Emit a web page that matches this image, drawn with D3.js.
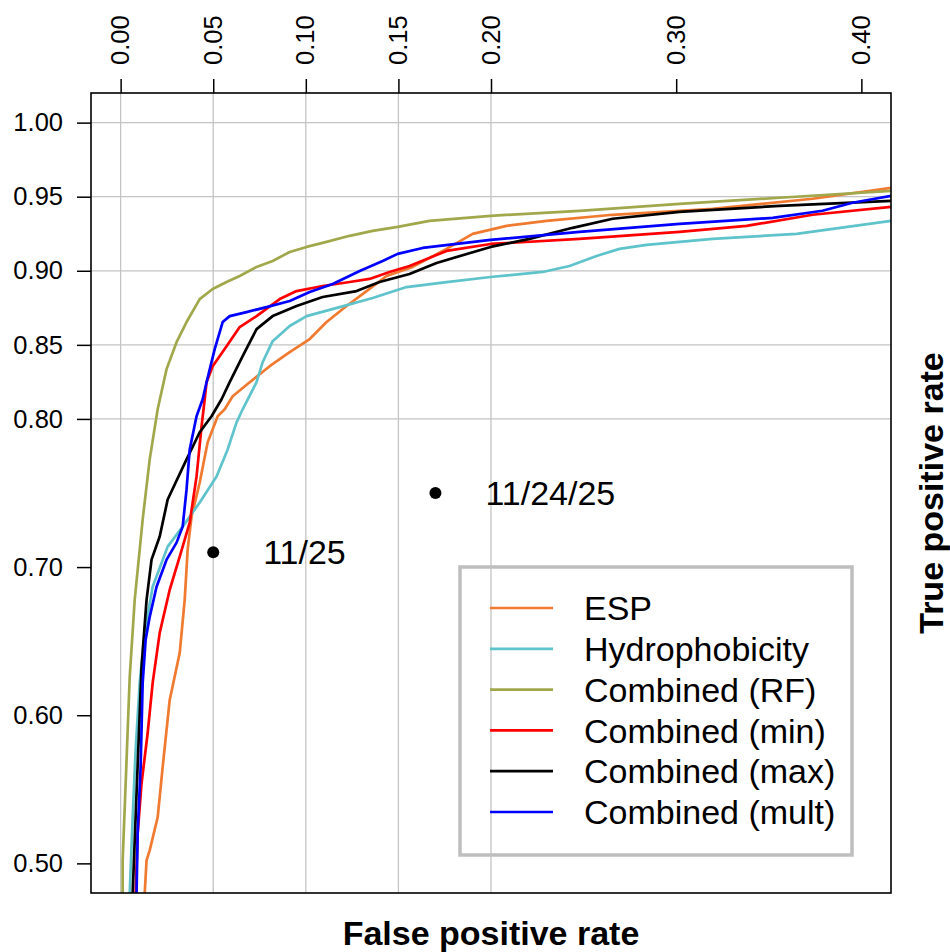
<!DOCTYPE html>
<html>
<head>
<meta charset="utf-8">
<script src="https://cdn.jsdelivr.net/npm/d3@7"></script>
<style>
  body { margin: 0; background: #fff; }
  text { font-family: "Liberation Sans", Arial, Helvetica, sans-serif; fill: #000; }
</style>
</head>
<body>
<svg id="chart" width="950" height="952"></svg>
<script>
// series names and colours, in legend order
const seriesNames = ['ESP', 'Hydrophobicity', 'Combined (RF)', 'Combined (min)', 'Combined (max)', 'Combined (mult)'];
const seriesColors = ['#f07a30', '#5fc3cb', '#a1a84c', '#ff0000', '#000000', '#0000ff'];

// ROC curves (false positive rate / true positive rate)
const espFpr = [0.0130, 0.0140, 0.0157, 0.0200, 0.0227, 0.0265, 0.0319, 0.0346, 0.0362, 0.0383, 0.0427, 0.0470, 0.0524, 0.0562, 0.0605, 0.0697, 0.0805, 0.0913, 0.1021, 0.1112, 0.1220, 0.1328, 0.1436, 0.1577, 0.1760, 0.1901, 0.2084, 0.2300, 0.2657, 0.3197, 0.3737, 0.4163];
const espTpr = [0.4797, 0.5020, 0.5088, 0.5311, 0.5650, 0.6103, 0.6421, 0.6779, 0.7118, 0.7341, 0.7571, 0.7842, 0.8018, 0.8065, 0.8153, 0.8248, 0.8356, 0.8451, 0.8539, 0.8654, 0.8762, 0.8863, 0.8965, 0.9026, 0.9148, 0.9249, 0.9303, 0.9337, 0.9378, 0.9418, 0.9486, 0.9560];

const hydFpr = [0.0049, 0.0065, 0.0081, 0.0103, 0.0130, 0.0173, 0.0254, 0.0335, 0.0427, 0.0518, 0.0578, 0.0626, 0.0659, 0.0734, 0.0767, 0.0821, 0.0913, 0.1004, 0.1183, 0.1361, 0.1544, 0.1760, 0.1998, 0.2279, 0.2424, 0.2570, 0.2694, 0.2840, 0.3197, 0.3650, 0.4163];
const hydTpr = [0.4797, 0.5311, 0.5765, 0.6218, 0.6556, 0.6867, 0.7138, 0.7273, 0.7436, 0.7612, 0.7794, 0.7977, 0.8065, 0.8248, 0.8383, 0.8525, 0.8627, 0.8694, 0.8755, 0.8816, 0.8890, 0.8924, 0.8958, 0.8992, 0.9032, 0.9100, 0.9148, 0.9175, 0.9215, 0.9249, 0.9337];

const rfFpr = [0.0011, 0.0011, 0.0032, 0.0049, 0.0076, 0.0119, 0.0157, 0.0200, 0.0248, 0.0302, 0.0356, 0.0427, 0.0497, 0.0572, 0.0643, 0.0734, 0.0821, 0.0913, 0.1004, 0.1091, 0.1237, 0.1361, 0.1496, 0.1668, 0.1998, 0.2478, 0.3018, 0.3558, 0.4163];
const rfTpr = [0.4797, 0.5020, 0.5697, 0.6258, 0.6779, 0.7321, 0.7727, 0.8065, 0.8336, 0.8518, 0.8654, 0.8809, 0.8877, 0.8924, 0.8965, 0.9026, 0.9066, 0.9127, 0.9161, 0.9188, 0.9236, 0.9269, 0.9296, 0.9337, 0.9371, 0.9405, 0.9452, 0.9493, 0.9540];

const minFpr = [0.0081, 0.0092, 0.0113, 0.0146, 0.0173, 0.0211, 0.0265, 0.0319, 0.0373, 0.0410, 0.0437, 0.0454, 0.0464, 0.0497, 0.0572, 0.0643, 0.0734, 0.0859, 0.0950, 0.1091, 0.1237, 0.1344, 0.1452, 0.1560, 0.1760, 0.1998, 0.2478, 0.3018, 0.3380, 0.3737, 0.4163];
const minTpr = [0.4797, 0.5203, 0.5541, 0.5880, 0.6218, 0.6556, 0.6847, 0.7070, 0.7300, 0.7612, 0.7950, 0.8133, 0.8248, 0.8356, 0.8491, 0.8620, 0.8694, 0.8809, 0.8863, 0.8897, 0.8924, 0.8945, 0.8992, 0.9032, 0.9134, 0.9181, 0.9215, 0.9263, 0.9303, 0.9378, 0.9432];

const maxFpr = [0.0065, 0.0086, 0.0113, 0.0140, 0.0167, 0.0211, 0.0254, 0.0356, 0.0427, 0.0491, 0.0545, 0.0589, 0.0659, 0.0734, 0.0821, 0.0950, 0.1091, 0.1274, 0.1398, 0.1560, 0.1706, 0.1998, 0.2208, 0.2441, 0.2657, 0.3018, 0.3558, 0.4163];
const maxTpr = [0.4797, 0.5474, 0.6326, 0.6779, 0.7050, 0.7206, 0.7456, 0.7727, 0.7910, 0.8018, 0.8133, 0.8248, 0.8424, 0.8606, 0.8694, 0.8762, 0.8823, 0.8863, 0.8924, 0.8978, 0.9053, 0.9161, 0.9215, 0.9290, 0.9351, 0.9398, 0.9438, 0.9472];

const multFpr = [0.0086, 0.0092, 0.0108, 0.0119, 0.0135, 0.0157, 0.0194, 0.0248, 0.0302, 0.0335, 0.0356, 0.0373, 0.0410, 0.0443, 0.0464, 0.0508, 0.0551, 0.0589, 0.0680, 0.0788, 0.0913, 0.1021, 0.1145, 0.1291, 0.1415, 0.1496, 0.1631, 0.1998, 0.2478, 0.3018, 0.3521, 0.3790, 0.3952, 0.4163];
const multTpr = [0.4797, 0.5203, 0.5650, 0.6218, 0.6509, 0.6664, 0.6867, 0.7050, 0.7165, 0.7273, 0.7524, 0.7794, 0.8018, 0.8133, 0.8248, 0.8471, 0.8654, 0.8694, 0.8721, 0.8755, 0.8796, 0.8857, 0.8911, 0.8999, 0.9066, 0.9114, 0.9154, 0.9208, 0.9263, 0.9317, 0.9357, 0.9405, 0.9459, 0.9506];

// marked operating points
const pointLabels = ['11/25', '11/24/25'];
const pointFpr = [0.05, 0.17];
const pointTpr = [0.71, 0.75];

// axis ticks
const xTicks = [0.00, 0.05, 0.10, 0.15, 0.20, 0.30, 0.40];
const yTicks = [0.50, 0.60, 0.70, 0.80, 0.85, 0.90, 0.95, 1.00];
const xGrid = [0.00, 0.05, 0.10, 0.15, 0.20];
const yGrid = [0.80, 0.85, 0.90, 0.95, 1.00];

const fprs = [espFpr, hydFpr, rfFpr, minFpr, maxFpr, multFpr];
const tprs = [espTpr, hydTpr, rfTpr, minTpr, maxTpr, multTpr];

const plot = { left: 91, top: 93, right: 891, bottom: 893 };

const svg = d3.select('#chart');

const x = d3.scaleLinear().domain([-0.016, 0.416]).range([plot.left, plot.right]);
const y = d3.scaleLinear().domain([0.48, 1.02]).range([plot.bottom, plot.top]);

svg.append('rect')
  .attr('width', 950).attr('height', 952).attr('fill', '#fff');

svg.append('clipPath').attr('id', 'plotclip')
  .append('rect')
  .attr('x', plot.left).attr('y', plot.top)
  .attr('width', plot.right - plot.left).attr('height', plot.bottom - plot.top);

// grid
const grid = svg.append('g').attr('stroke', '#c4c4c4').attr('stroke-width', 1.3);
grid.selectAll('.gx').data(xGrid).enter().append('line')
  .attr('x1', d => x(d)).attr('x2', d => x(d))
  .attr('y1', plot.top).attr('y2', plot.bottom);
grid.selectAll('.gy').data(yGrid).enter().append('line')
  .attr('x1', plot.left).attr('x2', plot.right)
  .attr('y1', d => y(d)).attr('y2', d => y(d));

// curves
const line = d3.line()
  .x(d => x(d[0]))
  .y(d => y(d[1]));

const curves = svg.append('g').attr('clip-path', 'url(#plotclip)');
seriesNames.forEach((name, i) => {
  const pts = fprs[i].map((f, j) => [f, tprs[i][j]]);
  curves.append('path')
    .datum(pts)
    .attr('d', line)
    .attr('fill', 'none')
    .attr('stroke', seriesColors[i])
    .attr('stroke-width', 2.7)
    .attr('stroke-linejoin', 'round');
});

// points
pointLabels.forEach((lab, i) => {
  svg.append('circle')
    .attr('cx', x(pointFpr[i])).attr('cy', y(pointTpr[i]))
    .attr('r', 6).attr('fill', '#000');
  svg.append('text')
    .attr('x', x(pointFpr[i]) + 50).attr('y', y(pointTpr[i]))
    .attr('dy', '0.36em')
    .style('font-size', '34px')
    .text(lab);
});

// axes
const fmt = d3.format('.2f');

const yAxis = svg.append('g')
  .attr('transform', `translate(${plot.left},0)`)
  .call(d3.axisLeft(y).tickValues(yTicks).tickFormat(fmt).tickSize(14).tickPadding(14));
yAxis.select('.domain').remove();
yAxis.selectAll('line').attr('stroke', '#000').attr('stroke-width', 1.5);
yAxis.selectAll('text').style('font-size', '25.5px').attr('font-family', null);

const xAxis = svg.append('g')
  .attr('transform', `translate(0,${plot.top})`)
  .call(d3.axisTop(x).tickValues(xTicks).tickFormat(fmt).tickSize(14));
xAxis.select('.domain').remove();
xAxis.selectAll('line').attr('stroke', '#000').attr('stroke-width', 1.5);
xAxis.selectAll('text')
  .attr('transform', 'rotate(-90)')
  .attr('x', 28).attr('y', 0).attr('dy', '0.32em')
  .attr('text-anchor', 'start')
  .attr('font-family', null)
  .style('font-size', '25.5px');

// box
svg.append('rect')
  .attr('x', plot.left).attr('y', plot.top)
  .attr('width', plot.right - plot.left).attr('height', plot.bottom - plot.top)
  .attr('fill', 'none').attr('stroke', '#000').attr('stroke-width', 1.6);

// axis titles
svg.append('text')
  .attr('x', (plot.left + plot.right) / 2).attr('y', 945)
  .attr('text-anchor', 'middle')
  .style('font-size', '34px').style('font-weight', 'bold')
  .text('False positive rate');

svg.append('text')
  .attr('transform', `translate(943,${(plot.top + plot.bottom) / 2}) rotate(-90)`)
  .attr('text-anchor', 'middle')
  .style('font-size', '34px').style('font-weight', 'bold')
  .text('True positive rate');

// legend
const legend = svg.append('g');
legend.append('rect')
  .attr('x', 460).attr('y', 567).attr('width', 392).attr('height', 288)
  .attr('fill', 'none').attr('stroke', '#bebebe').attr('stroke-width', 3.5);

seriesNames.forEach((name, i) => {
  const ly = 608 + i * 40.8;
  legend.append('line')
    .attr('x1', 490).attr('x2', 553).attr('y1', ly).attr('y2', ly)
    .attr('stroke', seriesColors[i]).attr('stroke-width', 2.7);
  legend.append('text')
    .attr('x', 584).attr('y', ly).attr('dy', '0.36em')
    .style('font-size', '34px')
    .text(name);
});
</script>
</body>
</html>
